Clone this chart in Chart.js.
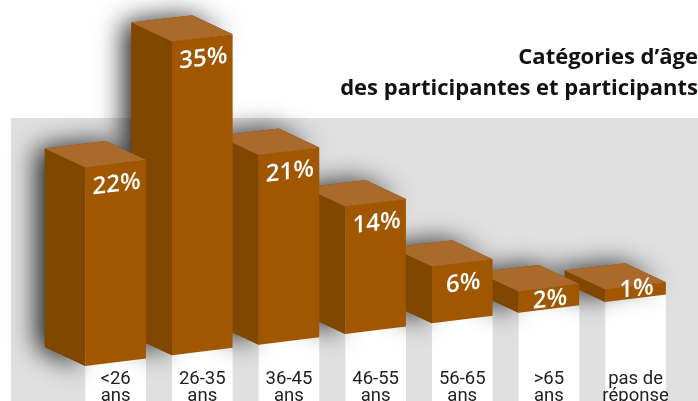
<!DOCTYPE html>
<html>
<head>
<meta charset="utf-8">
<style>
  html, body { margin: 0; background: #fff; overflow: hidden; }
  canvas { display: block; }
</style>
<script src="https://cdn.jsdelivr.net/npm/chart.js@4"></script>
</head>
<body>
<canvas id="ageChart" width="698" height="401"></canvas>
<script>
const categories = [["<26", "ans"], ["26-35", "ans"], ["36-45", "ans"], ["46-55", "ans"], ["56-65", "ans"], [">65", "ans"], ["pas de", "réponse"]];
const values = [22, 35, 21, 14, 6, 2, 1];
const titleLines = ["Catégories d’âge", "des participantes et participants"];

// front of the bars is a sheared plane, depth goes back and to the left
const SHEAR = -0.123;
const SHEAR_X = 85;
const DEPTH_X = -40.5;
const DEPTH_Y = -19;

function poly(ctx, pts) {
  ctx.beginPath();
  pts.forEach((p, i) => (i ? ctx.lineTo(p[0], p[1]) : ctx.moveTo(p[0], p[1])));
  ctx.closePath();
  ctx.fill();
}

function corners(bar) {
  const l = bar.x - bar.width / 2;
  const r = bar.x + bar.width / 2;
  const sy = (x, y) => y + SHEAR * (x - SHEAR_X);
  const tl = [l, sy(l, bar.y)];
  const tr = [r, sy(r, bar.y)];
  const bl = [l, sy(l, bar.base)];
  const back = p => [p[0] + DEPTH_X, p[1] + DEPTH_Y];
  return { tl, tr, bl, btl: back(tl), btr: back(tr), bbl: back(bl) };
}

const bars3d = {
  id: "bars3d",
  beforeDraw(chart) {
    const ctx = chart.ctx;
    ctx.save();
    ctx.fillStyle = "#fff";
    ctx.fillRect(0, 0, chart.width, chart.height);
    ctx.fillStyle = "#e0e0e0";
    ctx.fillRect(11, 118, chart.width - 11, chart.height - 118);
    ctx.restore();
  },
  beforeDatasetDraw(chart, args) {
    const ctx = chart.ctx;
    const bars = args.meta.data;
    const sheared = () => ctx.transform(1, SHEAR, 0, 1, 0, -SHEAR * SHEAR_X);

    // white columns under the bars
    ctx.save();
    sheared();
    ctx.fillStyle = "#fff";
    bars.forEach(b => ctx.fillRect(b.x - b.width / 2, b.base - 5, b.width, 300));
    ctx.restore();

    // shadows first so they never land on another bar
    ctx.save();
    ctx.shadowColor = "rgba(0,0,0,0.85)";
    ctx.shadowBlur = 26;
    ctx.shadowOffsetX = -8;
    ctx.fillStyle = "#804700";
    bars.forEach(b => {
      const c = corners(b);
      poly(ctx, [c.bl, c.bbl, c.btl, c.btr, c.tr, c.tl]);
    });
    ctx.restore();

    // right to left, each bar stands in front of the next one
    for (let i = bars.length - 1; i >= 0; i--) {
      const c = corners(bars[i]);
      ctx.fillStyle = "#804700";
      poly(ctx, [c.tl, c.bl, c.bbl, c.btl]);
      ctx.fillStyle = "#aa6a2c";
      poly(ctx, [c.tl, c.tr, c.btr, c.btl]);
      ctx.save();
      sheared();
      bars[i].draw(ctx);
      ctx.restore();
    }

    ctx.save();
    sheared();
    ctx.fillStyle = "#fff";
    ctx.font = "600 24px 'Open Sans'";
    ctx.textAlign = "center";
    ctx.textBaseline = "middle";
    bars.forEach((b, i) => {
      const h = b.base - b.y;
      ctx.fillText(values[i] + "%", b.x + 1, b.y + Math.min(21, h - 9));
    });
    ctx.restore();
    return false;
  }
};

new Chart(document.getElementById("ageChart"), {
  type: "bar",
  data: {
    labels: categories,
    datasets: [{
      data: values,
      base: -0.4,
      backgroundColor: "#a05700",
      barPercentage: 0.7,
      categoryPercentage: 1
    }]
  },
  plugins: [bars3d],
  options: {
    responsive: false,
    animation: false,
    layout: { padding: { left: 72.3 } },
    plugins: {
      legend: { display: false },
      tooltip: { enabled: false },
      title: {
        display: true,
        text: titleLines,
        align: "end",
        color: "#111",
        font: { family: "'Open Sans'", size: 22, weight: "700", lineHeight: 1.41 },
        padding: { top: 42.5, bottom: -104.5 }
      }
    },
    scales: {
      x: {
        grid: { display: false },
        border: { display: false },
        afterFit(scale) { scale.height = 35; },
        ticks: {
          z: 1,
          color: "#222",
          padding: -3,
          autoSkip: false,
          maxRotation: 0,
          font: { family: "Roboto", size: 18.5, lineHeight: 0.92 }
        }
      },
      y: {
        position: "right",
        min: -0.4,
        max: 40.9,
        grid: { display: false },
        border: { display: false },
        ticks: { display: false },
        afterFit(scale) { scale.width = 19.1; }
      }
    }
  }
});
</script>
</body>
</html>
